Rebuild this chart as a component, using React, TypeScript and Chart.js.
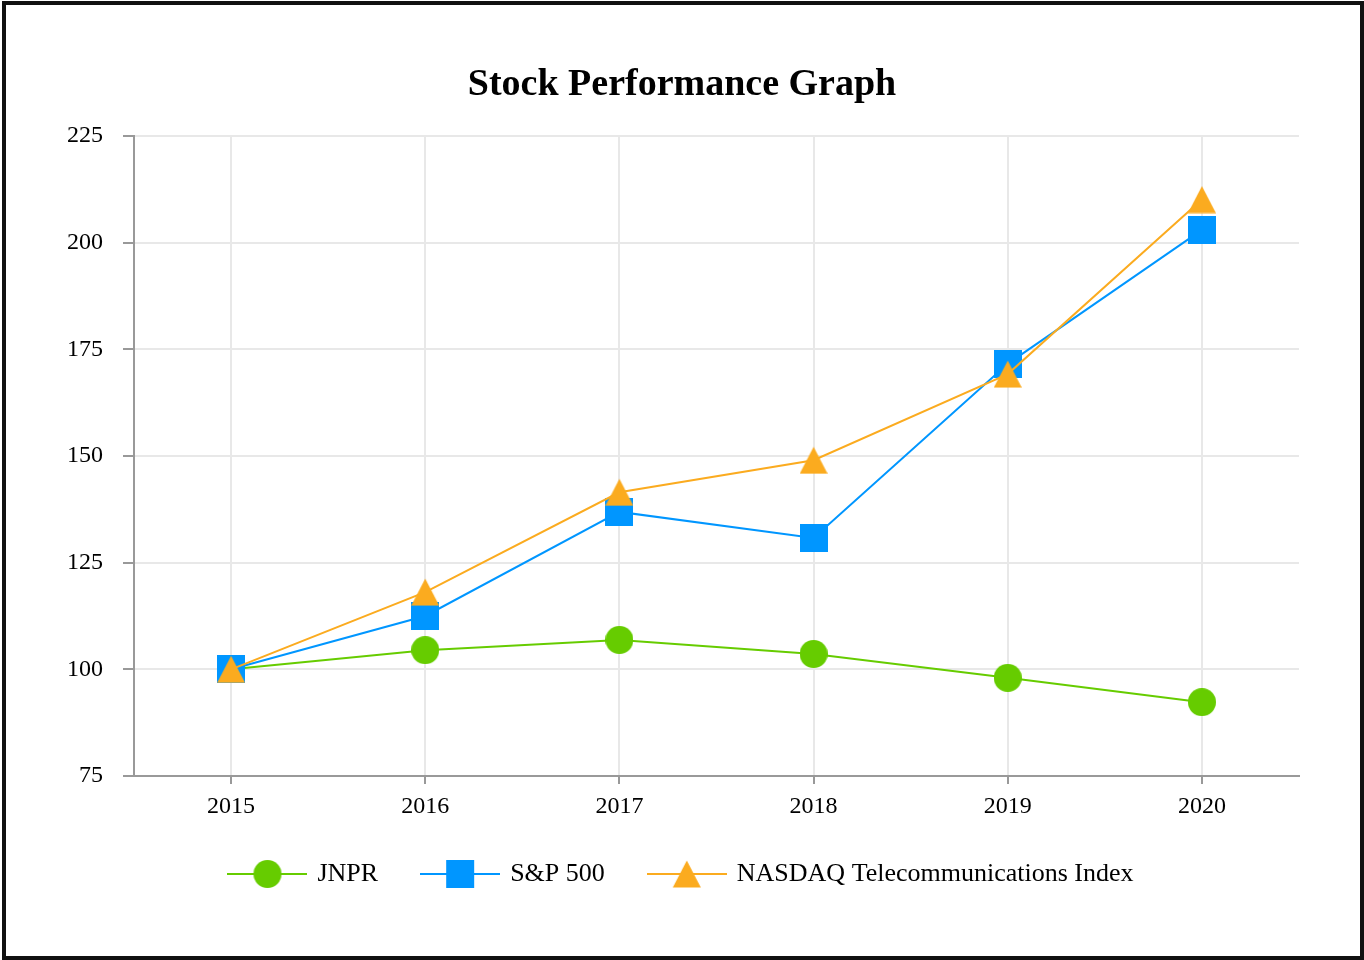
import React, { useEffect, useRef } from "react";
import { Chart, registerables } from "chart.js";

Chart.register(...registerables);

const years = ["2015", "2016", "2017", "2018", "2019", "2020"];
const jnpr = [100, 104.5, 106.9, 103.6, 98.0, 92.3];
const sp500 = [100, 112.5, 136.9, 130.8, 171.6, 203.0];
const nasdaqTel = [100, 118.1, 141.5, 149.0, 169.2, 210.1];
const seriesNames = ["JNPR", "S&P 500", "NASDAQ Telecommunications Index"];
const chartTitle = "Stock Performance Graph";
const yMin = 75;
const yMax = 225;
const yStep = 25;

const GREEN = "#66cc00";
const BLUE = "#0096ff";
const ORANGE = "#fbab1f";
const FONT = "'Liberation Serif', 'Times New Roman', serif";

function makeMarker(shape: string, color: string, lineLen = 0): HTMLCanvasElement {
  const size = 28;
  const w = lineLen || size;
  const c = document.createElement("canvas");
  c.width = w;
  c.height = size;
  const ctx = c.getContext("2d")!;
  const cx = w / 2;
  const cy = size / 2;
  if (lineLen) {
    ctx.strokeStyle = color;
    ctx.lineWidth = 2;
    ctx.beginPath();
    ctx.moveTo(0, cy);
    ctx.lineTo(w, cy);
    ctx.stroke();
  }
  ctx.fillStyle = color;
  ctx.beginPath();
  if (shape === "circle") {
    ctx.arc(cx, cy, 14, 0, Math.PI * 2);
  } else if (shape === "square") {
    ctx.rect(cx - 14, cy - 14, 28, 28);
  } else {
    ctx.moveTo(cx, cy - 13.5);
    ctx.lineTo(cx + 14, cy + 13.5);
    ctx.lineTo(cx - 14, cy + 13.5);
    ctx.closePath();
  }
  ctx.fill();
  return c;
}

export default function App() {
  const ref = useRef<HTMLCanvasElement | null>(null);

  useEffect(() => {
    document.body.style.margin = "0";
    const canvas = ref.current!;
    const shapes = ["circle", "square", "triangle"];
    const colors = [GREEN, BLUE, ORANGE];
    const values = [jnpr, sp500, nasdaqTel];
    const markers = shapes.map((s, i) => makeMarker(s, colors[i]));
    const legendMarkers = shapes.map((s, i) => makeMarker(s, colors[i], 80));

    const chart = new Chart(canvas, {
      type: "line",
      data: {
        labels: years,
        datasets: values.map((v, i) => ({
          label: seriesNames[i],
          data: v,
          borderColor: colors[i],
          backgroundColor: colors[i],
          borderWidth: 2,
          pointStyle: markers[i],
          pointRadius: 14,
          pointHoverRadius: 14,
          tension: 0,
          fill: false,
          order: values.length - i,
          yAxisID: "y",
        })),
      },
      options: {
        animation: false,
        responsive: false,
        devicePixelRatio: 1,
        layout: { padding: { left: 0, right: 0, top: 40, bottom: 63 } },
        plugins: {
          title: {
            display: true,
            text: chartTitle,
            color: "#000",
            font: { family: FONT, size: 38, weight: "bold" },
            padding: { top: 22.2, bottom: 28.2 },
          },
          legend: {
            display: true,
            position: "bottom",
            labels: {
              usePointStyle: true,
              pointStyleWidth: 74,
              padding: 45,
              color: "#000",
              font: { family: FONT, size: 26 },
              generateLabels: (ch: any) =>
                ch.data.datasets.map((ds: any, i: number) => ({
                  text: ds.label,
                  fillStyle: colors[i],
                  strokeStyle: colors[i],
                  lineWidth: 0,
                  pointStyle: legendMarkers[i],
                  hidden: false,
                  datasetIndex: i,
                  fontColor: "#000",
                })),
            },
          },
          tooltip: { enabled: false },
        },
        scales: {
          x: {
            type: "category",
            offset: true,
            grid: {
              color: "#e8e8e8",
              lineWidth: 2,
              tickColor: "#999",
              tickLength: 8,
              offset: false,
            },
            border: { color: "#999", width: 2 },
            ticks: {
              color: "#000",
              padding: 8.1,
              font: { family: FONT, size: 24 },
              maxRotation: 0,
            },
            afterFit: (scale: any) => {
              scale.height = 40;
            },
          },
          y: {
            type: "linear",
            position: "left",
            min: yMin,
            max: yMax,
            grid: {
              color: "#e8e8e8",
              lineWidth: 2,
              tickColor: "#999",
              tickLength: 11,
            },
            border: { color: "#999", width: 2 },
            ticks: {
              stepSize: yStep,
              color: "#000",
              padding: 20,
              font: { family: FONT, size: 24 },
            },
            afterFit: (scale: any) => {
              scale.width = 134;
            },
          },
          y2: {
            type: "linear",
            position: "right",
            display: true,
            grid: { display: false, drawTicks: false },
            border: { display: false },
            ticks: { display: false },
            afterFit: (scale: any) => {
              scale.width = 65;
            },
          },
        },
      } as any,
    });
    return () => chart.destroy();
  }, []);

  return (
    <div style={{ position: "absolute", left: 0, top: 0, width: 1364, height: 960, background: "#fff" }}>
      <canvas
        ref={ref}
        width={1364}
        height={960}
        style={{ position: "absolute", left: 0, top: 0, width: 1364, height: 960, display: "block" }}
      />
      <div
        style={{
          position: "absolute",
          left: 2,
          top: 1,
          width: 1362,
          height: 959,
          boxSizing: "border-box",
          border: "4px solid #111",
          pointerEvents: "none",
        }}
      />
    </div>
  );
}
